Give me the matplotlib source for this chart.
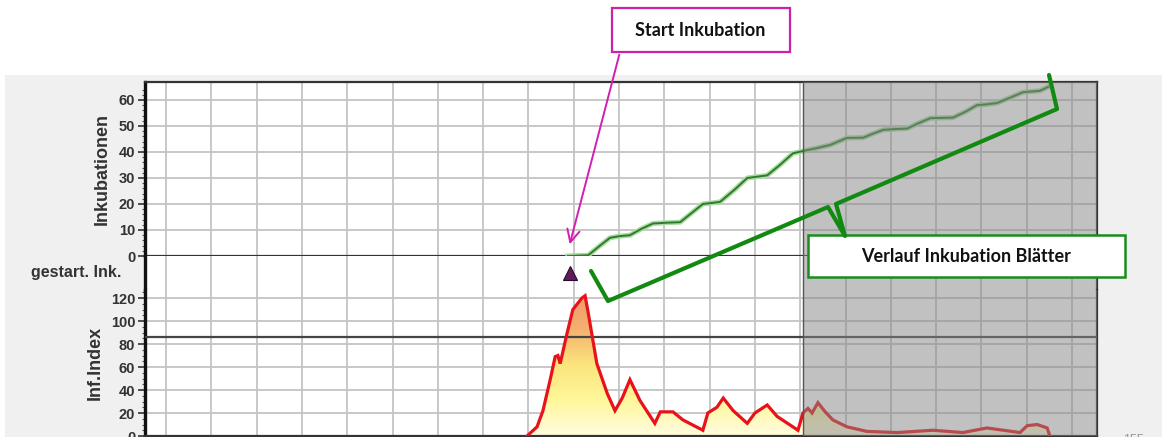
import numpy as np
import matplotlib
matplotlib.use("Agg")
import matplotlib.pyplot as plt
from matplotlib.patches import Rectangle
from matplotlib.colors import LinearSegmentedColormap

# x axis in days (one grid column per day)
inc_days = [9.87, 10.32, 10.58, 10.80, 11.00, 11.24, 11.50, 11.75, 12.05, 12.35, 12.60,
            12.85, 13.05, 13.23, 13.55, 13.83, 14.05, 14.27, 14.55, 14.84, 15.10, 15.37,
            15.66, 16.03, 16.39, 16.60, 16.83, 17.10, 17.36, 17.60, 17.87, 18.10, 18.37,
            18.65, 18.90, 19.10, 19.34, 19.65, 19.92, 20.29, 20.47]
inc_values = [0, 0.3, 4, 7, 7.6, 8, 10.5, 12.5, 12.8, 13, 16.5,
              20, 20.4, 20.8, 25.5, 30, 30.5, 31, 35, 39.5, 40.5, 41.5,
              42.7, 45.4, 45.5, 47, 48.5, 48.8, 49, 51, 53, 53.1, 53.2,
              55.5, 58, 58.3, 58.8, 61, 63, 63.5, 65]

inf_days = [8.97, 9.19, 9.32, 9.48, 9.59, 9.65, 9.70, 9.85, 9.98, 10.18, 10.25, 10.32,
            10.51, 10.74, 10.91, 11.07, 11.24, 11.46, 11.79, 11.91, 12.19, 12.41, 12.85,
            12.96, 13.16, 13.30, 13.52, 13.83, 14.00, 14.27, 14.49, 14.95, 15.06, 15.17,
            15.26, 15.39, 15.55, 15.72, 16.03, 16.47, 17.14, 17.93, 18.59, 19.12, 19.85,
            20.01, 20.23, 20.45, 20.51]
inf_values = [0, 8, 22, 49, 69, 70, 63, 89, 110, 120, 122, 107,
              63, 37, 22, 33, 49, 31, 11, 21, 21, 14, 5,
              20, 25, 33, 22, 11, 20, 27, 17, 5, 20, 24,
              20, 29, 21, 14, 8, 4, 3, 5, 3, 7, 3,
              9, 10, 7, 0]

start_day = 9.92          # gestart. Ink. marker
forecast_from = 15.07     # shaded forecast period
inf_threshold = 86

inc_ticks = [0, 10, 20, 30, 40, 50, 60]
inf_ticks = [0, 20, 40, 60, 80, 100, 120]

W, H = 1162, 437
XLIM = (0.536, 21.55)
GRID = '#c4c4c4'
DARK = '#333333'
TICKFONT = dict(family='Liberation Sans', weight='bold', size=10.5, color=DARK)
LABELFONT = dict(family='Liberation Sans', weight='bold', color=DARK)


def frac(x0, y0, x1, y1):
    return [x0 / W, 1 - y1 / H, (x1 - x0) / W, (y1 - y0) / H]


fig = plt.figure(figsize=(W / 100, H / 100), dpi=100, facecolor='white')

# background panel
bg = fig.add_axes([0, 0, 1, 1], zorder=-5)
bg.set_xlim(0, W)
bg.set_ylim(H, 0)
bg.axis('off')
bg.add_patch(Rectangle((5, 75), W, H, color='#f0f0f0', lw=0))

ax1 = fig.add_axes(frac(145, 82, 1097, 256))
ax2 = fig.add_axes(frac(145, 256, 1097, 290))
ax3 = fig.add_axes(frac(145, 290, 1097, 436))

for ax in (ax1, ax2, ax3):
    ax.set_xlim(*XLIM)
    ax.set_xticks(np.arange(1, 22))
    ax.tick_params(axis='x', length=0, labelbottom=False)
    ax.grid(axis='x', color=GRID, lw=1.3, zorder=0)
    ax.set_axisbelow(True)
    for s in ax.spines.values():
        s.set_visible(False)
    ax.spines['left'].set_visible(True)
    ax.spines['left'].set_linewidth(2.4)
    ax.spines['left'].set_color('#111111')
    ax.axvspan(forecast_from, XLIM[1], color='#858585', alpha=0.5, lw=0, zorder=6)
    ax.axvline(forecast_from, color='#555555', lw=1.0, zorder=7)

# upper panel: Inkubationen
ax1.set_ylim(0, 66.9)
ax1.set_yticks(inc_ticks)
ax1.set_yticks(np.arange(0, 66, 2), minor=True)
ax1.grid(axis='y', color=GRID, lw=1.3, zorder=0)
ax1.axhline(0, color=DARK, lw=1.6, zorder=3)
for side in ('top', 'right'):
    ax1.spines[side].set_visible(True)
    ax1.spines[side].set_color(DARK)
    ax1.spines[side].set_linewidth(1.6)
ax1.plot(inc_days, inc_values, color='#a8dca0', lw=3.6, solid_joinstyle='round', zorder=4)
ax1.plot(inc_days, inc_values, color='#2f7a2f', lw=1.4, zorder=5)

# middle strip: start marker
ax2.set_ylim(0, 1)
ax2.set_yticks([])
ax2.spines['right'].set_visible(True)
ax2.spines['right'].set_color(DARK)
ax2.spines['right'].set_linewidth(1.6)
ax2.plot([start_day], [0.5], marker='^', ms=10, color='#5c1c5e', mec='#2a0a2a', mew=0.8,
         ls='none', zorder=5)

# lower panel: Inf.Index
ax3.set_ylim(0, 127)
ax3.set_yticks(inf_ticks)
ax3.set_yticks(np.arange(0, 127, 5), minor=True)
ax3.grid(axis='y', color=GRID, lw=1.3, zorder=0)
ax3.axhline(inf_threshold, color='#444444', lw=1.6, zorder=3)
for side in ('bottom', 'right'):
    ax3.spines[side].set_visible(True)
    ax3.spines[side].set_color(DARK)
    ax3.spines[side].set_linewidth(1.6)

fill = ax3.fill_between(inf_days, 0, inf_values, color='none', lw=0)
cmap = LinearSegmentedColormap.from_list('inf', ['#fffce0', '#fff79a', '#fbe47c', '#f5b070', '#f09868'])
grad = np.linspace(0, 1, 256).reshape(-1, 1)
im = ax3.imshow(grad, cmap=cmap, origin='lower', aspect='auto',
                extent=[XLIM[0], XLIM[1], 0, 125], zorder=2)
im.set_clip_path(fill.get_paths()[0], transform=ax3.transData)
ax3.set_xlim(*XLIM)
ax3.set_ylim(0, 127)
ax3.plot(inf_days, inf_values, color='#e8131a', lw=2.3, solid_joinstyle='miter', zorder=4)

for ax in (ax1, ax3):
    ax.tick_params(axis='y', which='major', length=5, width=1.2, color=DARK, pad=2)
    ax.tick_params(axis='y', which='minor', length=2.5, width=0.8, color='#555555')
    for lab in ax.get_yticklabels():
        lab.set(**TICKFONT)

# axis titles
fig.text(102 / W, 1 - 169 / H, 'Inkubationen', rotation=90, ha='center', va='center',
         size=13, **LABELFONT)
fig.text(95 / W, 1 - 363 / H, 'Inf.Index', rotation=90, ha='center', va='center',
         size=13, **LABELFONT)
fig.text(121 / W, 1 - 273 / H, 'gestart. Ink.', ha='right', va='center',
         size=11.5, **LABELFONT)

# annotations on top
ov = fig.add_axes([0, 0, 1, 1], zorder=20)
ov.set_xlim(0, W)
ov.set_ylim(H, 0)
ov.axis('off')
ov.patch.set_alpha(0)

ov.add_patch(Rectangle((612, 8), 178, 44, fc='white', ec='#cc22aa', lw=1.6))
ov.text(700, 30, 'Start Inkubation', ha='center', va='center',
        family='Lato', weight='bold', size=13, color='#111111')
ov.annotate('', xy=(569, 247), xytext=(620, 52),
            arrowprops=dict(arrowstyle='->,head_length=0.9,head_width=0.45',
                            color='#d21fb0', lw=1.4))

ov.plot([591, 608, 828, 845, 836, 1057, 1049], [271, 301, 207, 236, 204, 109, 75],
        color='#128a12', lw=3.0, solid_joinstyle='round', solid_capstyle='round')
ov.add_patch(Rectangle((808, 235), 317, 42, fc='white', ec='#1a8c1a', lw=1.8))
ov.text(966, 257, 'Verlauf Inkubation Blätter', ha='center', va='center',
        family='Lato', weight='bold', size=13, color='#111111')

ov.text(1133, 434, '155', ha='center', va='top', family='Liberation Sans',
        size=9, color='#999999')

fig.savefig('out.png', dpi=100, facecolor='white')
